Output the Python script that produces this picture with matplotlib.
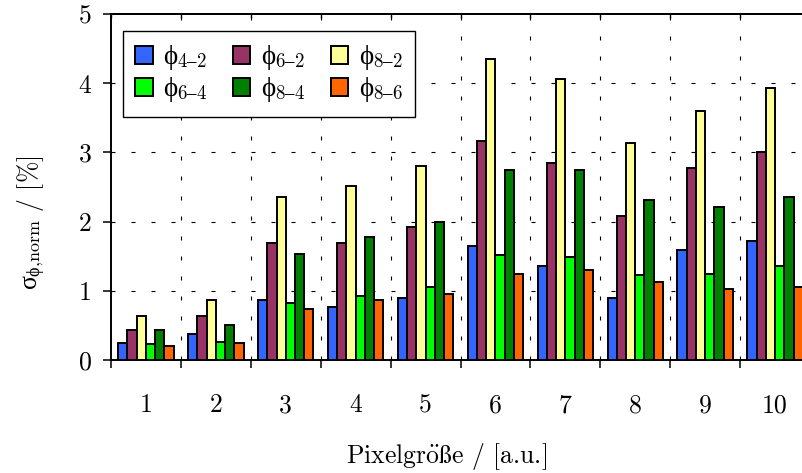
import matplotlib
matplotlib.use("Agg")
import matplotlib.pyplot as plt
import numpy as np
from matplotlib.ticker import FixedLocator, FixedFormatter, NullFormatter

# Math text: roman parts in Computer Modern, Greek symbols upright serif
plt.rcParams["mathtext.fontset"] = "custom"
plt.rcParams["mathtext.rm"] = "cmr10"
plt.rcParams["mathtext.it"] = "Liberation Serif"
plt.rcParams["mathtext.bf"] = "cmb10"
plt.rcParams["font.family"] = ["cmr10", "DejaVu Serif"]
plt.rcParams["axes.unicode_minus"] = False

# ---- data ----
pixel_sizes = ["1", "2", "3", "4", "5", "6", "7", "8", "9", "10"]
phi_4_2 = [0.24, 0.37, 0.86, 0.77, 0.90, 1.65, 1.36, 0.90, 1.59, 1.72]
phi_6_2 = [0.43, 0.64, 1.69, 1.69, 1.92, 3.17, 2.84, 2.08, 2.77, 3.00]
phi_8_2 = [0.64, 0.86, 2.35, 2.52, 2.81, 4.35, 4.06, 3.14, 3.60, 3.93]
phi_6_4 = [0.23, 0.26, 0.83, 0.93, 1.05, 1.52, 1.49, 1.23, 1.25, 1.36]
phi_8_4 = [0.43, 0.50, 1.53, 1.78, 1.99, 2.74, 2.74, 2.31, 2.21, 2.35]
phi_8_6 = [0.20, 0.24, 0.73, 0.86, 0.96, 1.25, 1.30, 1.12, 1.03, 1.06]
y_ticks = [0, 1, 2, 3, 4, 5]

series = [
    (phi_4_2, "#3366ff", "4\u20132"),
    (phi_6_2, "#993366", "6\u20132"),
    (phi_8_2, "#ffff99", "8\u20132"),
    (phi_6_4, "#00ff00", "6\u20134"),
    (phi_8_4, "#008000", "8\u20134"),
    (phi_8_6, "#ff6600", "8\u20136"),
]

FS = 18.5

fig = plt.figure(figsize=(8.02, 4.73), dpi=100)
ax = fig.add_axes([111 / 802, 1 - 360 / 473, 699 / 802, 346 / 473])

x = np.arange(1, len(pixel_sizes) + 1)
bar_w = 0.132
handles = {}
for i, (vals, col, sub) in enumerate(series):
    offs = (i - 2.5) * bar_w
    b = ax.bar(x + offs, vals, width=bar_w, color=col, edgecolor="black",
               linewidth=1.4, zorder=3)
    handles[sub] = b

ax.set_xlim(0.5, 10.5)
ax.set_ylim(0, 5)

# Grid: dashed lines at group borders and integer values
grid_kw = dict(color="black", linewidth=0.8, dashes=(3.6, 14.4), zorder=1)
for gx in np.arange(1.5, 10.5, 1.0):
    ax.axvline(gx, **grid_kw)
for gy in y_ticks[1:-1]:
    ax.axhline(gy, **grid_kw)

# x axis: border ticks (major) and centered labels (minor)
bounds = np.arange(0.5, 11.0, 1.0)
ax.xaxis.set_major_locator(FixedLocator(bounds))
ax.xaxis.set_major_formatter(NullFormatter())
ax.xaxis.set_minor_locator(FixedLocator(x))
ax.xaxis.set_minor_formatter(FixedFormatter(pixel_sizes))
ax.tick_params(axis="x", which="major", direction="out", length=5.5,
               width=1.1, bottom=True, top=False)
ax.tick_params(axis="x", which="minor", length=0, pad=24, labelsize=FS)

ax.yaxis.set_major_locator(FixedLocator(y_ticks))
ax.yaxis.set_major_formatter(FixedFormatter([str(v) for v in y_ticks]))
ax.tick_params(axis="y", direction="out", length=6, width=1.1, pad=8,
               labelsize=FS, right=False)

top = ax.secondary_xaxis("top")
top.xaxis.set_major_locator(FixedLocator(bounds))
top.xaxis.set_major_formatter(NullFormatter())
top.tick_params(direction="in", length=3, width=1.0)
top.spines["top"].set_linewidth(1.4)

for s in ["left", "bottom", "top"]:
    ax.spines[s].set_linewidth(1.4)
ax.spines["right"].set_visible(False)

ax.set_xlabel(r"Pixelgr$\mathrm{\ddot{o}ß}$e / [a.u.]", fontsize=FS,
              labelpad=17, math_fontfamily="cm")
ax.xaxis.label.set_x(0.48)
ax.set_ylabel(r"$\sigma_{\phi{,}\mathrm{norm}}$ / [%]", fontsize=FS,
              labelpad=23)
ax.yaxis.label.set_y(0.396)

# Legend: three columns, matplotlib fills column-wise
order = ["4\u20132", "6\u20134", "6\u20132", "8\u20134", "8\u20132", "8\u20136"]
leg = ax.legend([handles[k] for k in order],
                [r"$\phi_{\mathit{" + k + "}}$" for k in order],
                ncol=3, loc="upper left", bbox_to_anchor=(0.0176, 0.951),
                borderaxespad=0, fontsize=19.5, frameon=True, fancybox=False,
                framealpha=1, edgecolor="black", handlelength=0.63,
                handleheight=0.66, handletextpad=0.4, columnspacing=0.95,
                labelspacing=0.12, borderpad=0.45)
leg.get_frame().set_linewidth(1.0)
leg.set_zorder(5)

fig.savefig("out.png", dpi=100)
